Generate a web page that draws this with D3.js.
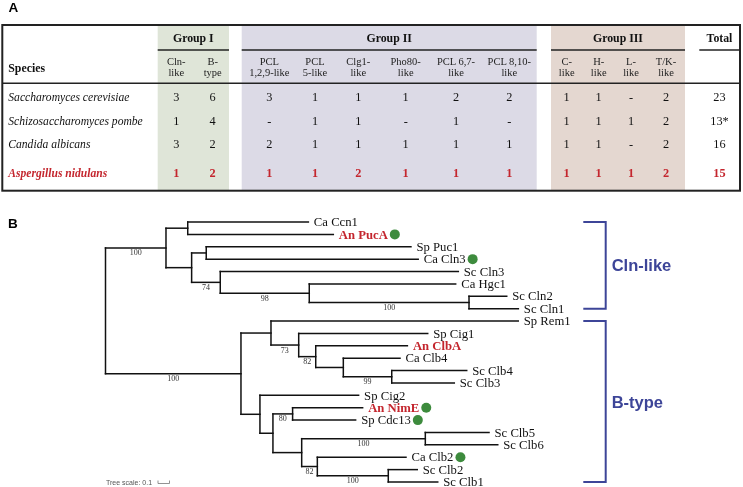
<!DOCTYPE html>
<html><head><meta charset="utf-8">
<script src="https://cdn.jsdelivr.net/npm/d3@7"></script>
<style>
html,body{margin:0;padding:0;background:#fff;}
svg{display:block;}
.serif{font-family:"Liberation Serif","Times New Roman",serif;}
.sans{font-family:"Liberation Sans",Arial,sans-serif;}
.gray{opacity:0.999;will-change:opacity;}
</style></head>
<body>
<svg id="chart" width="743" height="487"></svg>
<script>
// ---------- Panel A data ----------
const species = ["Saccharomyces cerevisiae","Schizosaccharomyces pombe","Candida albicans","Aspergillus nidulans"];
const groups = ["Group I","Group II","Group III"];
const subtypes = [["Cln-","like"],["B-","type"],["PCL","1,2,9-like"],["PCL","5-like"],["Clg1-","like"],["Pho80-","like"],["PCL 6,7-","like"],["PCL 8,10-","like"],["C-","like"],["H-","like"],["L-","like"],["T/K-","like"]];
const subtypeGroup = [0,0,1,1,1,1,1,1,2,2,2,2];
const countsSc = ["3","6","3","1","1","1","2","2","1","1","-","2"];
const countsSp = ["1","4","-","1","1","-","1","-","1","1","1","2"];
const countsCa = ["3","2","2","1","1","1","1","1","1","1","-","2"];
const countsAn = ["1","2","1","1","2","1","1","1","1","1","1","2"];
const totals = ["23","13*","16","15"];
const highlightSpecies = "Aspergillus nidulans";

// ---------- Panel B data (tree) ----------
const treeNodes   = ["root","C","N1","Ca Ccn1","An PucA","N2","N3","Sp Puc1","Ca Cln3","N4","Sc Cln3","N5","Ca Hgc1","N6","Sc Cln2","Sc Cln1",
                     "B","N7","Sp Rem1","N8","Sp Cig1","N9","An ClbA","N10","Ca Clb4","N11","Sc Clb4","Sc Clb3",
                     "N12","Sp Cig2","N13","N14","An NimE","Sp Cdc13","N15","N16","Sc Clb5","Sc Clb6","N17","Ca Clb2","N18","Sc Clb2","Sc Clb1"];
const treeParents = ["","root","C","N1","N1","C","N2","N3","N3","N2","N4","N4","N5","N5","N6","N6",
                     "root","B","N7","N7","N8","N8","N9","N9","N10","N10","N11","N11",
                     "B","N12","N12","N13","N14","N14","N13","N15","N16","N16","N15","N17","N17","N18","N18"];
const branchLengths = [0,0.526,0.189,1.049,1.266,0.223,0.127,1.780,1.843,0.249,2.070,0.774,1.273,1.389,0.328,0.429,
                     1.178,0.261,2.150,0.241,1.122,0.148,0.797,0.240,0.493,0.421,0.652,0.544,
                     0.165,0.858,0.113,0.171,0.609,0.548,0.250,1.075,0.554,0.630,0.136,0.771,0.617,0.252,0.430];
const bootstrap = ["","100","","","","","","","","74","","98","","100","","",
                     "100","","","73","","82","","","","99","","",
                     "","","","80","","","","100","","","82","","100","",""];
const highlightLeaves = ["An PucA","An ClbA","An NimE"];
const markedLeaves = ["An PucA","Ca Cln3","An NimE","Sp Cdc13","Ca Clb2"];
const cladeNames = ["Cln-like","B-type"];
const cladeFirst = ["Ca Ccn1","Sp Rem1"];
const cladeLast = ["Sc Cln1","Sc Clb1"];
const treeScaleValue = 0.1;

// ---------- layout ----------
const RED = "#c4262e", GREEN = "#3d8b3d", BLUE = "#3d4598";
const groupBg = ["#dfe5d8","#dcdae6","#e4d7d0"];
const groupSpan = [[157.7,229],[241.7,536.7],[551,685]];
const colX = [176.3,212.7,269.3,315,358.3,405.7,456,509.3,566.7,598.7,631,666];
const rowY = [97,120.7,143.3,172.7];

const svg = d3.select("#chart").append("g").attr("class","gray");

// Panel labels
svg.append("text").attr("class","sans").attr("x",8.5).attr("y",12).attr("font-size",13.5).attr("font-weight","bold").text("A");
svg.append("text").attr("class","sans").attr("x",8).attr("y",227.5).attr("font-size",13.5).attr("font-weight","bold").text("B");

// ---------- Table ----------
const tTop = 25, tBot = 190.7, tLeft = 2.3, tRight = 740;
const xCol = d3.scaleOrdinal().domain(d3.range(subtypes.length)).range(colX);
const yRow = d3.scaleOrdinal().domain(species).range(rowY);
const countsBySpecies = [countsSc,countsSp,countsCa,countsAn];

const tbl = svg.append("g");
tbl.selectAll("rect.bg").data(groups).join("rect")
  .attr("x",(d,i)=>groupSpan[i][0]).attr("y",tTop)
  .attr("width",(d,i)=>groupSpan[i][1]-groupSpan[i][0]).attr("height",tBot-tTop)
  .attr("fill",(d,i)=>groupBg[i]);

// group headers
tbl.selectAll("text.grp").data(groups).join("text").attr("class","serif")
  .attr("x",(d,i)=>(groupSpan[i][0]+groupSpan[i][1])/2).attr("y",42.3)
  .attr("text-anchor","middle").attr("font-size",11.8).attr("font-weight","bold").attr("fill","#111").text(d=>d);
tbl.selectAll("line.grp").data(groups).join("line")
  .attr("x1",(d,i)=>groupSpan[i][0]).attr("x2",(d,i)=>groupSpan[i][1])
  .attr("y1",50).attr("y2",50).attr("stroke","#222").attr("stroke-width",1.5);
// Total header
tbl.append("text").attr("class","serif").attr("x",719.5).attr("y",42.3).attr("text-anchor","middle")
  .attr("font-size",11.8).attr("font-weight","bold").attr("fill","#111").text("Total");
tbl.append("line").attr("x1",699.3).attr("x2",tRight).attr("y1",50).attr("y2",50).attr("stroke","#222").attr("stroke-width",1.5);
// Species header
tbl.append("text").attr("class","serif").attr("x",8.3).attr("y",72.3).attr("font-size",11.8).attr("font-weight","bold").attr("fill","#111").text("Species");

// subtype headers
const sub = tbl.selectAll("text.sub").data(subtypes).join("text").attr("class","serif")
  .attr("text-anchor","middle").attr("font-size",10.5).attr("fill","#222");
sub.append("tspan").attr("x",(d,i)=>xCol(i)).attr("y",65).text(d=>d[0]);
sub.append("tspan").attr("x",(d,i)=>xCol(i)).attr("y",75.8).text(d=>d[1]);

// header separator
tbl.append("line").attr("x1",tLeft).attr("x2",tRight).attr("y1",83.3).attr("y2",83.3).attr("stroke","#222").attr("stroke-width",1.6);

// rows
species.forEach((sp,r)=>{
  const hl = sp===highlightSpecies;
  tbl.append("text").attr("class","serif").attr("x",8.3).attr("y",yRow(sp)+4.2)
    .attr("font-size",11.6).attr("font-style","italic").attr("font-weight",hl?"bold":"normal")
    .attr("fill",hl?RED:"#111").text(sp);
  tbl.selectAll(null).data(countsBySpecies[r]).join("text").attr("class","serif")
    .attr("x",(d,i)=>xCol(i)).attr("y",yRow(sp)+4.3).attr("text-anchor","middle")
    .attr("font-size",12.3).attr("font-weight",hl?"bold":"normal").attr("fill",hl?RED:"#111").text(d=>d);
  tbl.append("text").attr("class","serif").attr("x",719.5).attr("y",yRow(sp)+4.3).attr("text-anchor","middle")
    .attr("font-size",12.3).attr("font-weight",hl?"bold":"normal").attr("fill",hl?RED:"#111").text(totals[r]);
});

// outer border
tbl.append("rect").attr("x",tLeft).attr("y",tTop).attr("width",tRight-tLeft).attr("height",tBot-tTop)
  .attr("fill","none").attr("stroke","#222").attr("stroke-width",2);

// ---------- Tree ----------
const nodeData = treeNodes.map((id,i)=>({id, parent:treeParents[i], len:branchLengths[i], boot:bootstrap[i]}));
const root = d3.stratify().id(d=>d.id).parentId(d=>d.parent||null)(nodeData);
root.eachBefore(n=>{ n.dist = n.parent ? n.parent.dist + n.data.len : 0; });
const leaves = root.leaves();
const xTree = d3.scaleLinear().domain([0,1]).range([105.5,220.5]);
const yLeaf = d3.scalePoint().domain(leaves.map(l=>l.id)).range([222,482]);
root.eachAfter(n=>{
  n.px = xTree(n.dist);
  n.py = n.children ? (n.children[0].py + n.children[n.children.length-1].py)/2 : yLeaf(n.id);
});

const tree = svg.append("g");
const links = [];
root.each(n=>{
  if(n.children){
    links.push([n.px,n.children[0].py,n.px,n.children[n.children.length-1].py]);
    n.children.forEach(c=>links.push([n.px,c.py,c.px,c.py]));
  }
});
tree.selectAll("line.br").data(links).join("line")
  .attr("x1",d=>d[0]).attr("y1",d=>d[1]).attr("x2",d=>d[2]).attr("y2",d=>d[3])
  .attr("stroke","#111").attr("stroke-width",1.5).attr("stroke-linecap","square");

// bootstrap
tree.selectAll("text.boot").data(root.descendants().filter(n=>n.data.boot)).join("text").attr("class","serif")
  .attr("x",d=>(d.parent.px+d.px)/2).attr("y",d=>d.py+7.5).attr("text-anchor","middle")
  .attr("font-size",8).attr("fill","#333").text(d=>d.data.boot);

// leaf labels
const lbl = tree.selectAll("text.leaf").data(leaves).join("text").attr("class","serif")
  .attr("x",d=>d.px+5.5).attr("y",d=>d.py+4.2).attr("font-size",12.7)
  .attr("font-weight",d=>highlightLeaves.includes(d.id)?"bold":"normal")
  .attr("fill",d=>highlightLeaves.includes(d.id)?RED:"#111").text(d=>d.id);
lbl.each(function(d){
  if(markedLeaves.includes(d.id)){
    const w = this.getComputedTextLength();
    tree.append("circle").attr("cx",d.px+5.5+w+7).attr("cy",d.py).attr("r",5).attr("fill",GREEN);
  }
});

// clade brackets
cladeNames.forEach((name,i)=>{
  const y1 = yLeaf(cladeFirst[i]), y2 = yLeaf(cladeLast[i]);
  tree.append("path").attr("d",`M583.3,${y1}H605.7V${y2}H583.3`).attr("fill","none")
    .attr("stroke",BLUE).attr("stroke-width",2);
  tree.append("text").attr("class","sans").attr("x",611.7).attr("y",(y1+y2)/2+6)
    .attr("font-size",16.5).attr("font-weight","bold").attr("fill",BLUE).text(name);
});

// tree scale
const sx0 = 158, sLen = xTree(treeScaleValue)-xTree(0);
tree.append("text").attr("class","sans").attr("x",106).attr("y",484.5).attr("font-size",7).attr("fill","#555")
  .text("Tree scale: " + treeScaleValue);
tree.append("path").attr("d",`M${sx0},480.5V483.5M${sx0},483.5H${sx0+sLen}M${sx0+sLen},480.5V483.5`)
  .attr("fill","none").attr("stroke","#777").attr("stroke-width",0.8);
</script>
</body></html>
